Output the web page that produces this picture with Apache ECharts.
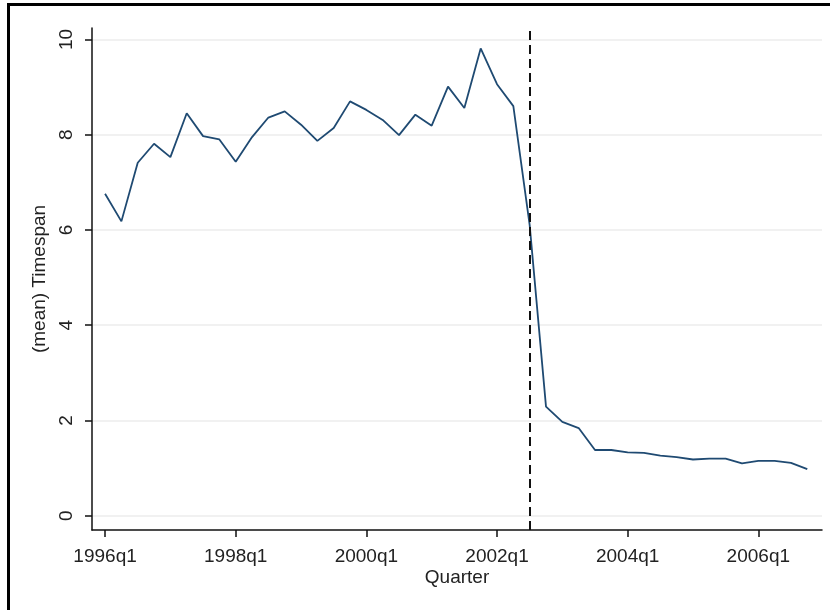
<!DOCTYPE html>
<html>
<head>
<meta charset="utf-8">
<script src="https://cdn.jsdelivr.net/npm/echarts@6/dist/echarts.min.js"></script>
<style>
html,body{margin:0;padding:0;background:#fff;}
#chart{width:830px;height:610px;}
</style>
</head>
<body>
<div id="chart"></div>
<script>
const quarters = [
  '1996q1','1996q2','1996q3','1996q4','1997q1','1997q2','1997q3','1997q4',
  '1998q1','1998q2','1998q3','1998q4','1999q1','1999q2','1999q3','1999q4',
  '2000q1','2000q2','2000q3','2000q4','2001q1','2001q2','2001q3','2001q4',
  '2002q1','2002q2','2002q3','2002q4','2003q1','2003q2','2003q3','2003q4',
  '2004q1','2004q2','2004q3','2004q4','2005q1','2005q2','2005q3','2005q4',
  '2006q1','2006q2','2006q3','2006q4'
];
const timespan = [
  6.76, 6.18, 7.41, 7.81, 7.53, 8.45, 7.97, 7.90,
  7.43, 7.95, 8.36, 8.49, 8.21, 7.87, 8.14, 8.70,
  8.52, 8.31, 7.99, 8.42, 8.19, 9.01, 8.56, 9.81,
  9.06, 8.60, 6.10, 2.29, 1.97, 1.84, 1.38, 1.38,
  1.33, 1.32, 1.26, 1.23, 1.18, 1.20, 1.20, 1.10,
  1.15, 1.15, 1.11, 0.98
];
const xTickLabels = ['1996q1','1998q1','2000q1','2002q1','2004q1','2006q1'];
const yTickValues = [0, 2, 4, 6, 8, 10];
const breakQuarter = '2002q3';

const xTickIdx = xTickLabels.map(l => quarters.indexOf(l));
const seriesData = timespan.map((v, i) => [i, v]);

const FONT = 'Liberation Sans';
const chart = echarts.init(document.getElementById('chart'));
chart.setOption({
  animation: false,
  backgroundColor: '#ffffff',
  grid: { left: 92, right: 8, top: 28, bottom: 80, containLabel: false },
  xAxis: {
    type: 'value',
    min: -0.8,
    max: 43.9,
    name: 'Quarter',
    nameLocation: 'middle',
    nameGap: 38,
    nameMoveOverlap: false,
    nameTextStyle: { fontFamily: FONT, fontSize: 19, color: '#222' },
    axisLine: { show: true, onZero: false, lineStyle: { color: '#111', width: 1.5 } },
    axisTick: { show: true, length: 7, customValues: xTickIdx, lineStyle: { color: '#111', width: 1.5 } },
    axisLabel: {
      customValues: xTickIdx,
      formatter: v => quarters[Math.round(v)],
      fontFamily: FONT, fontSize: 19, color: '#222', margin: 17
    },
    splitLine: { show: false }
  },
  yAxis: {
    type: 'value',
    min: -0.3,
    max: 10.24,
    name: '(mean) Timespan',
    nameLocation: 'middle',
    nameGap: 43,
    nameRotate: 90,
    nameMoveOverlap: false,
    nameTextStyle: { fontFamily: FONT, fontSize: 19, color: '#222' },
    axisLine: { show: true, onZero: false, lineStyle: { color: '#111', width: 1.5 } },
    axisTick: { show: true, length: 7, customValues: yTickValues, lineStyle: { color: '#111', width: 1.5 } },
    axisLabel: {
      customValues: yTickValues,
      rotate: 90,
      fontFamily: FONT, fontSize: 19, color: '#222', margin: 16
    },
    splitLine: { show: true, lineStyle: { color: '#ececec', width: 1.5 } }
  },
  graphic: [
    { type: 'rect', shape: { x: 7, y: 3, width: 3, height: 610 }, style: { fill: '#000' } },
    { type: 'rect', shape: { x: 7, y: 3, width: 823, height: 3 }, style: { fill: '#000' } }
  ],
  series: [{
    type: 'line',
    data: seriesData,
    symbol: 'none',
    lineStyle: { color: '#1f4a72', width: 1.8 },
    markLine: {
      silent: true,
      symbol: 'none',
      label: { show: false },
      lineStyle: { color: '#111', type: [9, 5], width: 2 },
      data: [{ xAxis: quarters.indexOf(breakQuarter) }]
    }
  }]
});
</script>
</body>
</html>
